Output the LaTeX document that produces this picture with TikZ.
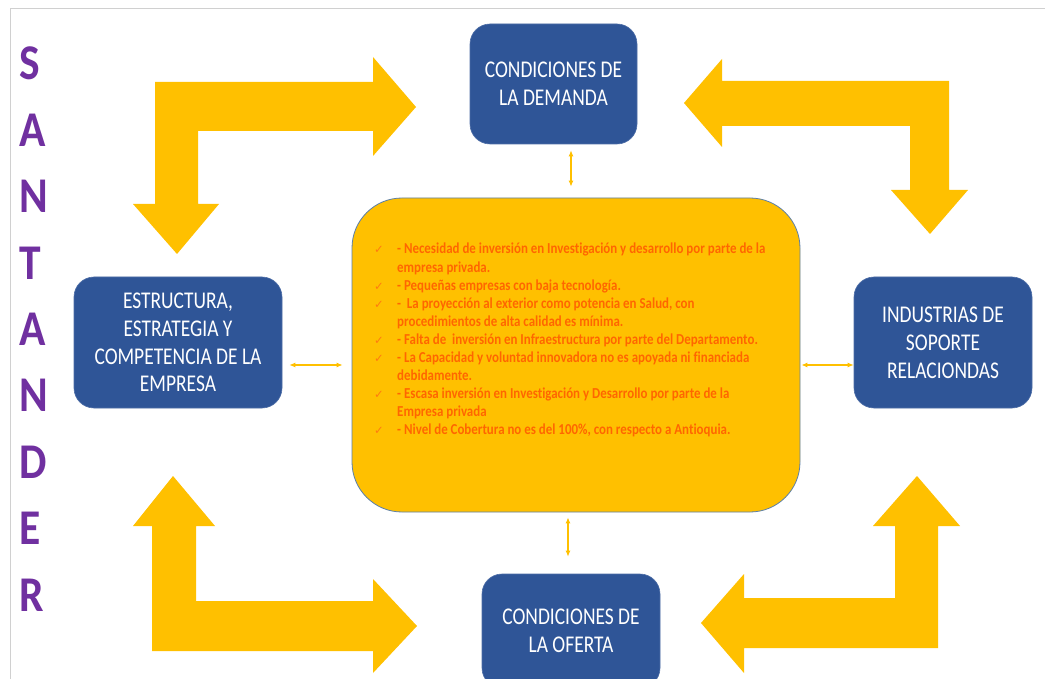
\documentclass[tikz,border=0pt]{standalone}
\usepackage{fontspec}
\setmainfont{Carlito}
\newfontfamily\boxfont[FakeStretch=0.81]{Carlito}
\newfontfamily\listfont[FakeStretch=0.85,RawFeature=-liga]{Carlito}
\newfontfamily\bigfont[FakeStretch=0.87]{Carlito}
\newfontfamily\chkfont{DejaVu Sans}
\usetikzlibrary{arrows.meta}
\definecolor{gold}{HTML}{FFC000}
\definecolor{boxblue}{HTML}{2F5597}
\definecolor{edgeblue}{HTML}{5B7FA8}
\definecolor{txtorange}{HTML}{FF6600}
\definecolor{chkorange}{HTML}{FF7A10}
\definecolor{santpurple}{HTML}{7030A0}
\definecolor{framegray}{HTML}{D0D0D0}
\newcommand{\chk}{\makebox[24pt][l]{\hspace*{1pt}{\chkfont\mdseries\fontsize{11.5}{11.5}\selectfont\color{chkorange}✓}}}
\newcommand{\ind}{\hspace*{24pt}}
\begin{document}
\begin{tikzpicture}[x=1pt,y=-1pt,
  bluebox/.style={rounded corners=20pt, fill=boxblue, draw=boxblue!85!white, line width=0.6pt,
    text=white, align=center, font=\boxfont\fontsize{24}{27.8}\selectfont, inner sep=0pt},
  centerbox/.style={rounded corners=50pt, fill=gold, draw=edgeblue, line width=0.8pt, inner sep=0pt},
  bigarrow/.style={fill=gold, draw=none},
  dbl/.style={draw=gold, line width=1.1pt, {Latex[length=6pt,width=5pt]}-{Latex[length=6pt,width=5pt]}},
  listtext/.style={anchor=base west, inner sep=0pt, text=txtorange, font=\listfont\bfseries\fontsize{15.2}{18.1}\selectfont},
  vertword/.style={anchor=base west, inner sep=0pt, text=santpurple, font=\bigfont\bfseries\fontsize{50}{66.4}\selectfont}]
\useasboundingbox (0,0) rectangle (1045,679);
\clip (0,0) rectangle (1045,679);
\fill[white] (0,0) rectangle (1045,679);
\draw[framegray, line width=1.5pt] (10.5,679) -- (10.5,8.3) -- (1045,8.3);

% vertical title
\node[vertword] (title) at (19,80) {\parbox[t]{60pt}{S\\A\\N\\T\\A\\N\\D\\E\\R}};

% boxes
\node[bluebox, minimum width=167pt, minimum height=120pt] (demanda) at (553.5,84) {CONDICIONES DE\\LA DEMANDA};
\node[bluebox, minimum width=208pt, minimum height=131pt] (estructura) at (178,342.5) {ESTRUCTURA,\\ESTRATEGIA Y\\COMPETENCIA DE LA\\EMPRESA};
\node[bluebox, minimum width=178pt, minimum height=131pt] (industrias) at (943,342.5) {INDUSTRIAS DE\\SOPORTE\\RELACIONDAS};
\node[bluebox, minimum width=178pt, minimum height=114pt] (oferta) at (571,631) {CONDICIONES DE\\LA OFERTA};
\node[centerbox, minimum width=448pt, minimum height=314pt] (centro) at (576,355) {};

% list text
\node[listtext] (lista) at (373,254) {\parbox[t]{420pt}{%
\chk- Necesidad de inversión en Investigación y desarrollo por parte de la\\
\ind empresa privada.\\
\chk- Pequeñas empresas con baja tecnología.\\
\chk-\ \ La proyección al exterior como potencia en Salud, con\\
\ind procedimientos de alta calidad es mínima.\\
\chk- Falta de\ \ inversión en Infraestructura por parte del Departamento.\\
\chk- La Capacidad y voluntad innovadora no es apoyada ni financiada\\
\ind debidamente.\\
\chk- Escasa inversión en Investigación y Desarrollo por parte de la\\
\ind Empresa privada\\
\chk- Nivel de Cobertura no es del 100\%, con respecto a Antioquia.}};

% small double arrows
\coordinate (tx) at (571,0);
\coordinate (bx) at (568,0);
\coordinate (ly) at (0,365);
\draw[dbl, shorten <=6pt, shorten >=11pt] (demanda.south -| tx) -- (centro.north -| tx);
\draw[dbl, shorten <=5pt, shorten >=17pt] (centro.south -| bx) -- (oferta.north -| bx);
\draw[dbl, shorten <=7pt, shorten >=9pt] (estructura.east |- ly) -- (centro.west |- ly);
\draw[dbl, shorten <=1pt, shorten >=0pt] (centro.east |- ly) -- (industrias.west |- ly);

% big bent arrows
\fill[bigarrow] (155,82) -- (373,82) -- (373,57) -- (416,107) -- (373,156) -- (373,131) -- (198,131) -- (198,204) -- (219,204) -- (177,254) -- (133,204) -- (155,204) -- cycle;
\fill[bigarrow] (949,81) -- (722,81) -- (722,59) -- (684,103) -- (722,147) -- (722,126) -- (910,126) -- (910,190) -- (891,190) -- (930,234) -- (968,190) -- (949,190) -- cycle;
\fill[bigarrow] (152,651) -- (373,651) -- (373,673) -- (417,626) -- (373,579) -- (373,601) -- (196,601) -- (196,526) -- (215,526) -- (173,476) -- (133,526) -- (152,526) -- cycle;
\fill[bigarrow] (938,648) -- (744,648) -- (744,673) -- (701,623) -- (744,574) -- (744,598) -- (895,598) -- (895,526) -- (873,526) -- (917,476) -- (960,526) -- (938,526) -- cycle;
\end{tikzpicture}
\end{document}
